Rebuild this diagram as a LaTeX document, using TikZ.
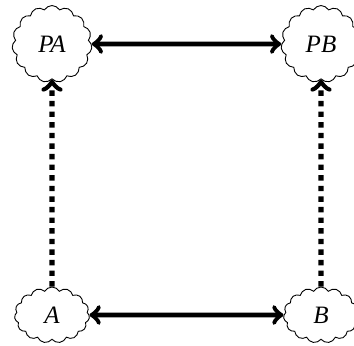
\documentclass[tikz,border=0pt]{standalone}
\usepackage{fontspec}
\setmainfont{Liberation Serif}
\usetikzlibrary{shapes.symbols}
\begin{document}
\begin{tikzpicture}[
  state/.style={cloud, draw, line width=0.45pt, cloud puffs=15, cloud puff arc=120,
    inner sep=0pt, font=\fontsize{12.5}{15}\selectfont\itshape},
  big/.style={state, minimum width=40pt, minimum height=38.5pt},
  small/.style={state, minimum width=37.5pt, minimum height=28pt},
  link/.style={line width=2.4pt},
  lift/.style={line width=2.6pt, dash pattern=on 2.7pt off 2.6pt}
]
\useasboundingbox (0,0) rectangle (177pt,-172.5pt);
\node[big]   (PA) at (26pt,-22pt)    {PA};
\node[big]   (PB) at (160.5pt,-22pt) {PB};
\node[small] (A)  at (26pt,-157.5pt) {A};
\node[small] (B)  at (160.5pt,-157.5pt) {B};
\draw[link,<->] (PA) -- (PB);
\draw[link,<->] (A) -- (B);
\draw[lift,->] (A) -- (PA);
\draw[lift,->] (B) -- (PB);
\end{tikzpicture}
\end{document}
